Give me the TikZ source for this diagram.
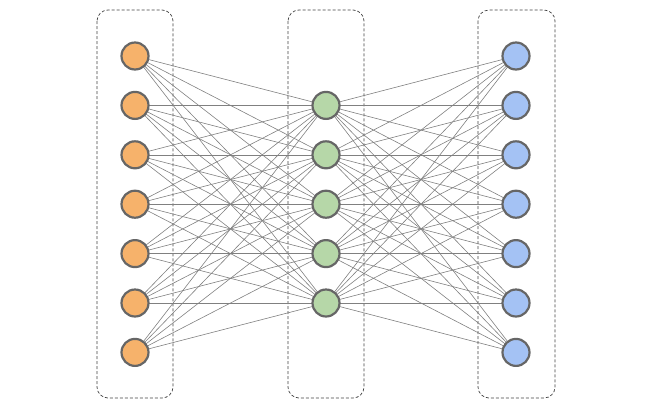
\documentclass[tikz,border=0pt]{standalone}
\usepackage{tikz}
\usetikzlibrary{positioning}
\definecolor{inorange}{HTML}{F6B26B}
\definecolor{hidgreen}{HTML}{B6D7A8}
\definecolor{outblue}{HTML}{A4C2F4}
\begin{document}
\begin{tikzpicture}[x=1pt, y=-1pt,
            neuron/.style={circle, draw=black!60, line width=2.2pt, minimum size=27pt, inner sep=0pt},
            layer/.style={draw=black!75, dash pattern=on 3pt off 2pt, rounded corners=11pt, line width=0.7pt},
            link/.style={draw=black!50, line width=0.6pt}
        ]
            \useasboundingbox (0,0) rectangle (650,400);

% layer boxes
            \draw[layer] (97,10) rectangle (173,398);
            \draw[layer] (288,10) rectangle (364,398);
            \draw[layer] (478,10) rectangle (555,398);

% neuron positions
            \foreach \i in {1,...,7} {
                \coordinate (pin\i) at (135,{56+49.4*(\i-1)});
                \coordinate (pout\i) at (516,{56+49.4*(\i-1)});
            }
            \foreach \i in {1,...,5}
                \coordinate (phid\i) at (326,{105.4+49.4*(\i-1)});

% connections
            \foreach \i in {1,...,7}
                \foreach \j in {1,...,5} {
                    \draw[link] (pin\i) -- (phid\j);
                    \draw[link] (phid\j) -- (pout\i);
                }

% neurons
            \foreach \i in {1,...,7} {
                \node[neuron, fill=inorange] (in\i) at (pin\i) {};
                \node[neuron, fill=outblue] (out\i) at (pout\i) {};
            }
            \foreach \i in {1,...,5}
                \node[neuron, fill=hidgreen] (hid\i) at (phid\i) {};

        \end{tikzpicture}
\end{document}
